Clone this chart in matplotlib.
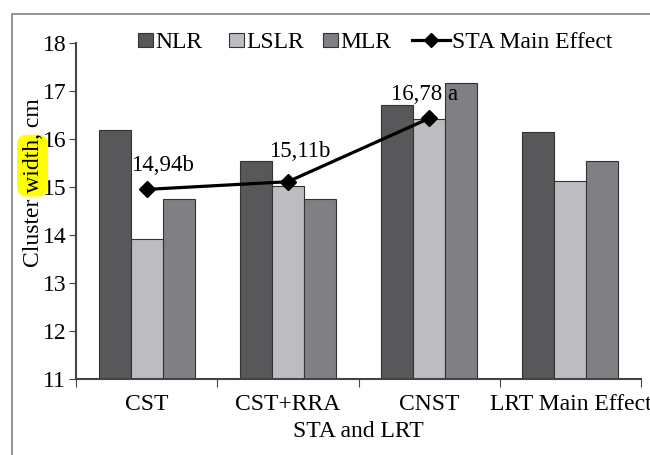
import matplotlib
matplotlib.use("Agg")
import matplotlib.pyplot as plt
from matplotlib.patches import Rectangle, Polygon, Patch
from matplotlib.legend_handler import HandlerPatch
import numpy as np

categories = ["CST", "CST+RRA", "CNST", "LRT Main Effect"]
series_names = ["NLR", "LSLR", "MLR"]
nlr = [16.18, 15.55, 16.70, 16.14]
lslr = [13.91, 15.02, 16.42, 15.12]
mlr = [14.74, 14.76, 17.17, 15.55]
line_name = "STA Main Effect"
sta_main = [14.95, 15.11, 16.43]
sta_labels = ["14,94b", "15,11b", "16,78 a"]
yticks = [11, 12, 13, 14, 15, 16, 17, 18]

colors = ["#58585a", "#bdbdc1", "#808084"]
edge = "#333333"

plt.rcParams["font.family"] = ["Liberation Serif", "DejaVu Serif"]
fs = 17

W, H = 650, 455
fig = plt.figure(figsize=(W / 100, H / 100), dpi=100)
ax = fig.add_axes([76 / W, 1 - 379 / H, (641 - 76) / W, (379 - 43) / H])

# outer frame
fig.patches.append(Rectangle((12 / W, -0.1), 2.0, 1 - 14 / H + 0.1,
                             transform=fig.transFigure, fill=False,
                             edgecolor="#808080", linewidth=1.2))

x = np.arange(len(categories)) + 0.5
bw = 0.227
for i, (vals, c) in enumerate(zip([nlr, lslr, mlr], colors)):
    ax.bar(x + (i - 1) * bw, np.array(vals) - 11, bottom=11, width=bw,
           color=c, edgecolor=edge, linewidth=0.8, zorder=2)

line, = ax.plot(x[:3], sta_main, color="black", lw=2.3, marker="D", ms=8.5,
                zorder=4)

offsets = [(16, 24), (12, 30), (-5, 24)]
for xi, yi, lab, off in zip(x[:3], sta_main, sta_labels, offsets):
    ax.annotate(lab, (xi, yi), xytext=off, textcoords="offset pixels",
                ha="center", va="center", fontsize=16.5, zorder=5)

ax.set_xlim(0, 4)
ax.set_ylim(11, 18)
ax.set_yticks(yticks)
ax.set_yticklabels([str(t) for t in yticks], fontsize=fs)
ax.set_xticks(np.arange(0, 5))
ax.set_xticklabels([])
ax.set_xticks(x, minor=True)
ax.set_xticklabels(categories, minor=True, fontsize=fs)
ax.tick_params(axis="x", which="major", length=6, direction="out", color="#444444")
ax.tick_params(axis="x", which="minor", length=0, pad=11)
ax.tick_params(axis="y", length=5, direction="out", color="#444444", pad=2)
for s in ["top", "right"]:
    ax.spines[s].set_visible(False)
for s in ["left", "bottom"]:
    ax.spines[s].set_color("#444444")
    ax.spines[s].set_linewidth(1.5)

ax.set_xlabel("STA and LRT", fontsize=fs, labelpad=4)
ylab = fig.text(34 / W, 1 - 182.5 / H, "Cluster width, cm", fontsize=fs,
                rotation=90, ha="center", va="center", zorder=3)


class SquareHandler(HandlerPatch):
    def create_artists(self, legend, orig_handle, xdescent, ydescent, width,
                       height, fontsize, trans):
        s = width
        p = Rectangle((-xdescent, -ydescent + (height - s) / 2), s, s,
                      facecolor=orig_handle.get_facecolor(),
                      edgecolor=orig_handle.get_edgecolor(), linewidth=0.8,
                      transform=trans)
        return [p]


def add_entry(handle, label, xpx, hlen, hmap=None):
    leg = fig.legend([handle], [label], handler_map=hmap or {},
                     loc="center left", bbox_to_anchor=(xpx / W, 1 - 42.5 / H),
                     bbox_transform=fig.transFigure, frameon=False,
                     fontsize=fs, handlelength=hlen, handletextpad=0.1,
                     borderpad=0, borderaxespad=0)
    return leg


for c, name, xp in zip(colors, series_names, [138, 229, 323]):
    p = Patch(facecolor=c, edgecolor=edge)
    add_entry(p, name, xp, 0.62, {p: SquareHandler()})

legline, = ax.plot([], [], color="black", lw=2.3, marker="D", ms=7.5)
add_entry(legline, line_name, 412, 1.6)

# highlight behind "width" (rounded rectangle built in pixel space)
fig.canvas.draw()
r = fig.canvas.get_renderer()
bb = ylab.get_window_extent(r)
tmp = fig.text(0, 0, "Cluster", fontsize=fs)
w1 = tmp.get_window_extent(r).width
tmp.set_text("Cluster width")
w2 = tmp.get_window_extent(r).width
tmp.remove()
y0 = bb.y0 + w1 + 2
y1 = bb.y0 + w2 + 4
x0, x1 = 17.0, 48.0
rad = 9.0
pts = []
corners = [(x1 - rad, y1 - rad, 0), (x0 + rad, y1 - rad, 90),
           (x0 + rad, y0 + rad, 180), (x1 - rad, y0 + rad, 270)]
for cxp, cyp, a0 in corners:
    t = np.radians(np.linspace(a0, a0 + 90, 12))
    pts += list(zip(cxp + rad * np.cos(t), cyp + rad * np.sin(t)))
pts = np.array(pts)
pts[:, 0] /= W
pts[:, 1] /= H
hl = Polygon(pts, closed=True, facecolor="#ffff00", edgecolor="none",
             transform=fig.transFigure, zorder=1)
fig.patches.append(hl)

fig.savefig("out.png", dpi=100)
